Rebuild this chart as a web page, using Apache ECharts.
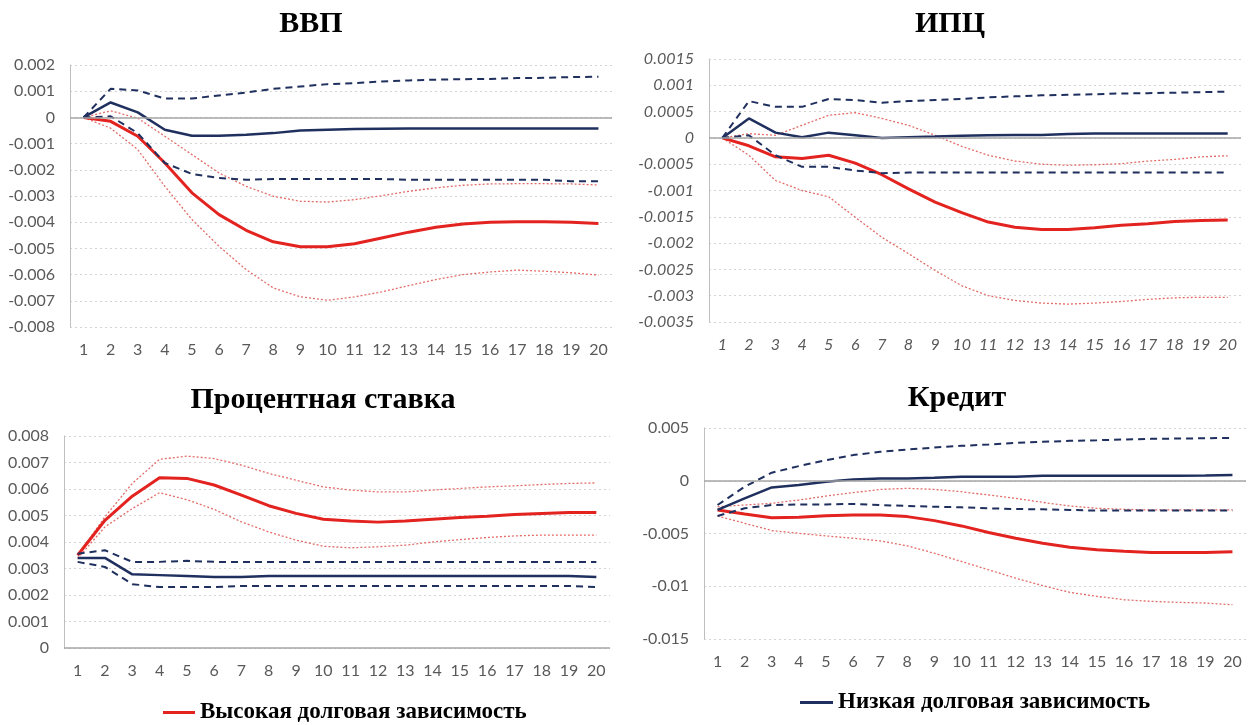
<!DOCTYPE html>
<html>
<head>
<meta charset="utf-8">
<script src="https://cdn.jsdelivr.net/npm/echarts@6/dist/echarts.min.js"></script>
<style>
html,body{margin:0;padding:0;background:#fff;}
#chart{width:1250px;height:725px;}
</style>
</head>
<body>
<div id="chart"></div>
<script>
// ---- categories ----
const periods = ['1','2','3','4','5','6','7','8','9','10','11','12','13','14','15','16','17','18','19','20'];

// ---- panel titles & legend names ----
const panelTitles = ['ВВП', 'ИПЦ', 'Процентная ставка', 'Кредит'];
const highName = 'Высокая долговая зависимость';
const lowName = 'Низкая долговая зависимость';

// ---- ВВП ----
const gdpHigh   = [0,-0.00015,-0.00072,-0.00174,-0.00288,-0.00371,-0.00431,-0.00475,-0.00494,-0.00494,-0.00482,-0.0046,-0.00438,-0.00419,-0.00407,-0.004,-0.00398,-0.00398,-0.004,-0.00405];
const gdpHighUp = [0,0.00025,-0.00003,-0.00072,-0.00142,-0.00212,-0.00263,-0.00301,-0.0032,-0.00323,-0.00314,-0.00299,-0.00282,-0.00269,-0.00259,-0.00254,-0.00253,-0.00253,-0.00254,-0.00258];
const gdpHighLo = [0,-0.00041,-0.00123,-0.00263,-0.0039,-0.00492,-0.00581,-0.00651,-0.00685,-0.00698,-0.00685,-0.00666,-0.00642,-0.00619,-0.006,-0.0059,-0.00583,-0.00587,-0.00593,-0.00602];
const gdpLow    = [0,0.00057,0.00019,-0.00047,-0.0007,-0.0007,-0.00066,-0.0006,-0.0005,-0.00047,-0.00044,-0.00043,-0.00042,-0.00042,-0.00042,-0.00042,-0.00042,-0.00042,-0.00042,-0.00042];
const gdpLowUp  = [0,0.00109,0.00103,0.00072,0.00072,0.00084,0.00095,0.00109,0.00118,0.00127,0.00131,0.00137,0.00141,0.00144,0.00146,0.00147,0.0015,0.00151,0.00154,0.00155];
const gdpLowLo  = [0,0.00004,-0.0006,-0.00174,-0.00216,-0.00231,-0.00238,-0.00235,-0.00235,-0.00235,-0.00235,-0.00235,-0.00238,-0.00238,-0.00238,-0.00238,-0.00238,-0.00238,-0.00244,-0.00244];

// ---- ИПЦ ----
const cpiHigh   = [0,-0.00015,-0.00036,-0.00039,-0.00033,-0.00048,-0.0007,-0.00097,-0.00122,-0.00142,-0.0016,-0.0017,-0.00174,-0.00174,-0.00171,-0.00166,-0.00163,-0.00159,-0.00157,-0.00156];
const cpiHighUp = [0,0.00008,0.00005,0.00024,0.00043,0.00048,0.00037,0.00024,0.00005,-0.00016,-0.00033,-0.00044,-0.0005,-0.00052,-0.00051,-0.00049,-0.00044,-0.00041,-0.00036,-0.00034];
const cpiHighLo = [0,-0.00033,-0.00081,-0.001,-0.00112,-0.00151,-0.00189,-0.0022,-0.00252,-0.00281,-0.003,-0.00309,-0.00314,-0.00316,-0.00314,-0.00311,-0.00307,-0.00304,-0.00303,-0.00303];
const cpiLow    = [0,0.00037,0.0001,0.000013,0.0001,0.00005,0,0.000013,0.000025,0.00004,0.00005,0.000057,0.000057,0.000076,0.000083,0.000083,0.000083,0.000083,0.000083,0.000083];
const cpiLowUp  = [0,0.0007,0.00059,0.00059,0.00074,0.00072,0.00067,0.0007,0.00072,0.00074,0.00077,0.00079,0.00081,0.00082,0.00083,0.000845,0.00085,0.00086,0.00087,0.00088];
const cpiLowLo  = [0,0.00005,-0.00033,-0.00055,-0.00055,-0.00062,-0.00067,-0.00066,-0.00066,-0.00066,-0.00066,-0.00066,-0.00066,-0.00066,-0.00066,-0.00066,-0.00066,-0.00066,-0.00066,-0.00066];

// ---- Процентная ставка ----
const rateHigh   = [0.0035,0.00482,0.00573,0.00642,0.0064,0.00615,0.00577,0.00537,0.00508,0.00486,0.00479,0.00475,0.00479,0.00486,0.00492,0.00497,0.00504,0.00508,0.00511,0.00511];
const rateHighUp = [0.0035,0.00495,0.00621,0.00712,0.00724,0.00715,0.0069,0.00659,0.00633,0.00608,0.00596,0.00589,0.00589,0.00596,0.00602,0.00608,0.00612,0.00617,0.00621,0.00623];
const rateHighLo = [0.00338,0.00457,0.00526,0.00586,0.0056,0.00523,0.00476,0.00438,0.00407,0.00384,0.00378,0.00382,0.00388,0.004,0.00409,0.00417,0.00423,0.00426,0.00426,0.00426];
const rateLow    = [0.0034,0.0034,0.00278,0.00275,0.00272,0.00268,0.00268,0.00272,0.00272,0.00272,0.00272,0.00272,0.00272,0.00272,0.00272,0.00272,0.00272,0.00272,0.00272,0.00268];
const rateLowUp  = [0.00356,0.00369,0.00325,0.00325,0.00329,0.00325,0.00325,0.00325,0.00325,0.00325,0.00325,0.00325,0.00325,0.00325,0.00325,0.00325,0.00325,0.00325,0.00325,0.00325];
const rateLowLo  = [0.00325,0.00306,0.00241,0.0023,0.0023,0.0023,0.00234,0.00234,0.00234,0.00234,0.00234,0.00234,0.00234,0.00234,0.00234,0.00234,0.00234,0.00234,0.00234,0.0023];

// ---- Кредит ----
const credHigh   = [-0.00277,-0.00315,-0.0035,-0.00346,-0.00331,-0.00324,-0.00324,-0.0034,-0.00378,-0.00428,-0.00491,-0.00545,-0.00592,-0.0063,-0.00655,-0.00668,-0.0068,-0.0068,-0.0068,-0.00674];
const credHighUp = [-0.00246,-0.0023,-0.00214,-0.00183,-0.00145,-0.00113,-0.00082,-0.00072,-0.00082,-0.00104,-0.00135,-0.00167,-0.00205,-0.00239,-0.00261,-0.00271,-0.00277,-0.00277,-0.00277,-0.00277];
const credHighLo = [-0.00334,-0.00403,-0.00472,-0.00498,-0.00523,-0.00545,-0.0057,-0.00617,-0.00687,-0.00765,-0.00844,-0.00923,-0.00995,-0.01058,-0.01096,-0.01128,-0.01143,-0.01153,-0.01159,-0.01175];
const credLow    = [-0.00277,-0.00167,-0.00063,-0.00041,-0.00009,0.00013,0.00022,0.00022,0.00028,0.00038,0.00038,0.00038,0.00047,0.00047,0.00047,0.00047,0.00047,0.00047,0.0005,0.00054];
const credLowUp  = [-0.0023,-0.00057,0.00076,0.00139,0.00195,0.00243,0.00274,0.00296,0.00315,0.00331,0.00343,0.00359,0.00369,0.00378,0.00384,0.00391,0.00397,0.004,0.00403,0.00406];
const credLowLo  = [-0.00334,-0.00261,-0.0023,-0.00224,-0.00224,-0.0022,-0.0023,-0.00239,-0.00246,-0.00252,-0.00261,-0.00268,-0.00271,-0.00277,-0.00283,-0.00283,-0.00283,-0.00283,-0.00283,-0.00283];

// ---- axis ranges ----
const yMins = [-0.008, -0.0035, 0, -0.015];
const yMaxs = [0.002, 0.0015, 0.008, 0.005];
const yIntervals = [0.001, 0.0005, 0.001, 0.005];

const panels = [
  [gdpHigh, gdpHighUp, gdpHighLo, gdpLow, gdpLowUp, gdpLowLo],
  [cpiHigh, cpiHighUp, cpiHighLo, cpiLow, cpiLowUp, cpiLowLo],
  [rateHigh, rateHighUp, rateHighLo, rateLow, rateLowUp, rateLowLo],
  [credHigh, credHighUp, credHighLo, credLow, credLowUp, credLowLo]
];

const RED = '#e3231f';
const RED_LIGHT = '#e26d68';
const NAVY = '#1f2f5e';
const TICK_COLOR = '#595959';

const grids = [
  {left: 70, right: 638, top: 65, height: 262},
  {left: 709, right: 9, top: 59, height: 263},
  {left: 64, right: 640, top: 436, height: 212},
  {left: 704, right: 4, top: 428, height: 211}
];

const titlePos = [
  {x: 311, y: 9}, {x: 950, y: 9}, {x: 323, y: 385}, {x: 957, y: 383}
];

const fmt = v => String(parseFloat(Number(v).toPrecision(6)));

const option = {
  backgroundColor: '#fff',
  animation: false,
  title: panelTitles.map((t, i) => ({
    text: t,
    left: titlePos[i].x,
    top: titlePos[i].y,
    textAlign: 'center',
    padding: 0,
    textStyle: {fontFamily: 'Liberation Serif', fontWeight: 'bold', fontSize: 30, color: '#000'}
  })),
  legend: [
    {
      data: [highName], left: 163, top: 701, padding: 0,
      icon: 'rect', itemWidth: 32, itemHeight: 3, itemGap: 8,
      textStyle: {fontFamily: 'Liberation Serif', fontWeight: 'bold', fontSize: 23, color: '#000'}
    },
    {
      data: [lowName], left: 800, top: 691, padding: 0,
      icon: 'rect', itemWidth: 33, itemHeight: 3, itemGap: 8,
      textStyle: {fontFamily: 'Liberation Serif', fontWeight: 'bold', fontSize: 23, color: '#000'}
    }
  ],
  grid: grids,
  xAxis: grids.map((g, i) => ({
    type: 'category',
    gridIndex: i,
    data: periods,
    boundaryGap: true,
    axisLine: {show: false},
    axisTick: {show: false},
    axisLabel: {
      color: TICK_COLOR, fontSize: 16, margin: 15,
      fontFamily: 'Lato', fontStyle: i === 1 ? 'italic' : 'normal', interval: 0
    },
    splitLine: {show: false}
  })),
  yAxis: grids.map((g, i) => ({
    type: 'value',
    gridIndex: i,
    min: yMins[i], max: yMaxs[i], interval: yIntervals[i],
    axisLine: {show: true, lineStyle: {color: '#bfbfbf', width: 1}},
    axisTick: {show: false},
    axisLabel: {
      color: TICK_COLOR, fontSize: 16, margin: 15, formatter: fmt,
      fontFamily: 'Lato', fontStyle: i === 1 ? 'italic' : 'normal'
    },
    splitLine: {show: true, lineStyle: {color: '#d4d4d4', type: [2, 3], width: 1}}
  })),
  series: []
};

panels.forEach((p, i) => {
  const base = {type: 'line', xAxisIndex: i, yAxisIndex: i, showSymbol: false, symbol: 'none', silent: true};
  option.series.push(Object.assign({}, base, {
    name: 'hi_up_' + i, data: p[1], lineStyle: {color: RED_LIGHT, width: 1.3, type: [2, 2]}, itemStyle: {color: RED_LIGHT},
    markLine: {silent: true, symbol: 'none', label: {show: false},
      lineStyle: {color: '#a6a6a6', type: 'solid', width: 1.5}, data: [{yAxis: 0}]}
  }));
  option.series.push(Object.assign({}, base, {
    name: 'hi_lo_' + i, data: p[2], lineStyle: {color: RED_LIGHT, width: 1.3, type: [2, 2]}, itemStyle: {color: RED_LIGHT}
  }));
  option.series.push(Object.assign({}, base, {
    name: highName, data: p[0], lineStyle: {color: RED, width: 3}, itemStyle: {color: RED}
  }));
  option.series.push(Object.assign({}, base, {
    name: 'lo_up_' + i, data: p[4], lineStyle: {color: NAVY, width: 2, type: [7, 5]}, itemStyle: {color: NAVY}
  }));
  option.series.push(Object.assign({}, base, {
    name: 'lo_lo_' + i, data: p[5], lineStyle: {color: NAVY, width: 2, type: [7, 5]}, itemStyle: {color: NAVY}
  }));
  option.series.push(Object.assign({}, base, {
    name: lowName, data: p[3], lineStyle: {color: NAVY, width: 2.5}, itemStyle: {color: NAVY}
  }));
});

const chart = echarts.init(document.getElementById('chart'), null, {renderer: 'canvas'});
chart.setOption(option);
</script>
</body>
</html>
